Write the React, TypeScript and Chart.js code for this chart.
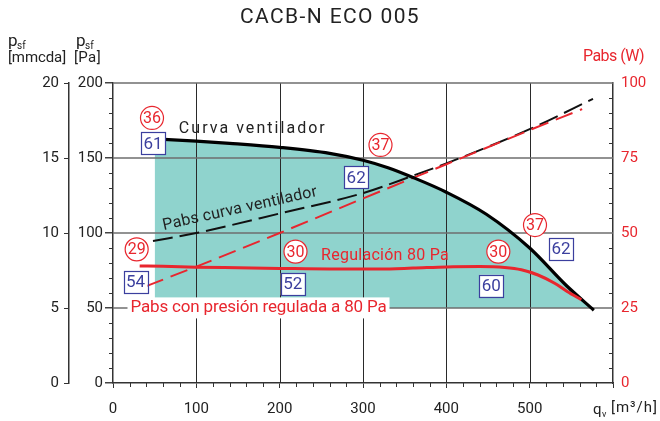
import React, { useEffect, useRef } from 'react';
import { Chart, registerables } from 'chart.js';
Chart.register(...registerables);

const FONT = 'Roboto, "DejaVu Sans", sans-serif';
const RED = '#e8262e';
const BLUE = '#3b3f9e';
const TEAL = '#8fd3cd';
const INK = '#222222';

const chartTitle = 'CACB-N ECO 005';

// Curva ventilador (Pa)
const fanFlow = [50, 100, 140, 200, 260, 300, 330, 360, 400, 448, 500, 544, 577];
const fanPressure = [162.8, 161.3, 159.8, 157.1, 153.1, 148.5, 143.5, 137, 127.2, 112.5, 90, 65, 48.5];

// Pabs curva ventilador (W)
const pabsFanFlow = [48, 100, 200, 300, 360, 400, 500, 576];
const pabsFanPower = [47.3, 50, 56.5, 63.3, 69.1, 73.2, 84.6, 94.7];

// Pabs con presión regulada a 80 Pa (W)
const pabsRegFlow = [40, 100, 200, 300, 400, 500, 563];
const pabsRegPower = [32.3, 38.8, 50, 61.5, 72.9, 84.3, 91.3];

// Regulación 80 Pa (Pa)
const regFlow = [32, 60, 100, 150, 200, 260, 320, 360, 400, 440, 470, 490, 510, 530, 545, 562];
const regPressure = [78, 77.8, 77.2, 76.8, 76.4, 76, 76, 76.6, 77.4, 77.6, 77, 75.5, 72, 66.5, 61, 55.5];

// Circled (red) annotations
const circleText = ['36', '37', '29', '30', '30', '37'];
const circleFlow = [46.8, 321, 28.4, 219, 462.4, 506.4];
const circlePa = [176.7, 158.7, 89.1, 87.6, 87.6, 105.3];

// Boxed (blue) annotations
const boxText = ['61', '62', '54', '52', '60', '62'];
const boxFlow = [48, 291.8, 27, 215.7, 454, 537.6];
const boxPa = [159.8, 137.1, 67.5, 65.9, 64.8, 89.5];

const xy = (xs: number[], ys: number[]) => xs.map((x, i) => ({ x, y: ys[i] }));

function fitText(ctx: CanvasRenderingContext2D, text: string, x: number, y: number, size: number, target: number, color: string, align: CanvasTextAlign = 'left') {
  ctx.font = `${size}px ${FONT}`;
  (ctx as any).letterSpacing = '0px';
  const w = ctx.measureText(text).width;
  const ls = target > 0 ? (target - w) / text.length : 0;
  (ctx as any).letterSpacing = `${ls}px`;
  ctx.fillStyle = color;
  ctx.textAlign = align;
  ctx.textBaseline = 'middle';
  ctx.fillText(text, x, y);
  (ctx as any).letterSpacing = '0px';
}

const decor = {
  id: 'decor',
  afterDatasetDraw(chart: any, args: any) {
    if (args.index !== 0) return;
    const { ctx, chartArea: { left, right, top, bottom }, scales } = chart;
    const sx = scales.x, sy = scales.y;
    ctx.save();
    ctx.lineWidth = 1;
    ctx.strokeStyle = '#2a2a2a';
    [100, 200, 300, 400, 500].forEach((v) => {
      const px = Math.round(sx.getPixelForValue(v)) + 0.5;
      ctx.beginPath(); ctx.moveTo(px, top); ctx.lineTo(px, bottom); ctx.stroke();
    });
    ctx.strokeStyle = '#6e6e6e';
    ctx.lineWidth = 1.5;
    [50, 100, 150, 200].forEach((v) => {
      const py = sy.getPixelForValue(v);
      ctx.beginPath(); ctx.moveTo(left, py); ctx.lineTo(right, py); ctx.stroke();
    });
    ctx.restore();
  },
  afterDraw(chart: any) {
    const { ctx, chartArea: { left, right, top, bottom }, scales } = chart;
    const sx = scales.x, sy = scales.y, sw = scales.yW;
    ctx.save();
    // minor ticks
    ctx.strokeStyle = '#333';
    ctx.lineWidth = 1;
    for (let v = 20; v < 600; v += 20) {
      if (v % 100 === 0) continue;
      const px = Math.round(sx.getPixelForValue(v)) + 0.5;
      ctx.beginPath(); ctx.moveTo(px, bottom); ctx.lineTo(px, bottom + 4); ctx.stroke();
    }
    for (let v = 10; v < 200; v += 10) {
      if (v % 50 === 0) continue;
      const py = Math.round(sy.getPixelForValue(v)) + 0.5;
      ctx.beginPath(); ctx.moveTo(left - 4, py); ctx.lineTo(left, py); ctx.stroke();
    }
    for (let v = 5; v < 100; v += 5) {
      if (v % 25 === 0) continue;
      const py = Math.round(sw.getPixelForValue(v)) + 0.5;
      ctx.beginPath(); ctx.moveTo(right - 4, py); ctx.lineTo(right, py); ctx.stroke();
    }

    // title
    fitText(ctx, chartTitle, 330, 18, 21, 180, INK, 'center');

    // axis titles
    ctx.textBaseline = 'alphabetic';
    ctx.textAlign = 'left';
    ctx.fillStyle = INK;
    ctx.font = `17px ${FONT}`;
    ctx.fillText('p', 8, 46);
    ctx.fillText('p', 76, 46);
    ctx.font = `10px ${FONT}`;
    ctx.fillText('sf', 17, 49);
    ctx.fillText('sf', 85, 49);
    fitText(ctx, '[mmcda]', 8, 58, 15, 58, INK);
    fitText(ctx, '[Pa]', 74, 58, 15, 27, INK);
    fitText(ctx, 'Pabs (W)', 583, 57, 16, 61, RED);
    ctx.textBaseline = 'alphabetic';
    ctx.fillStyle = INK;
    ctx.font = `15px ${FONT}`;
    ctx.fillText('q', 593, 414);
    ctx.font = `9px ${FONT}`;
    ctx.fillText('v', 602, 417);
    fitText(ctx, '[m³/h]', 611, 408, 15, 47, INK);

    const P = (fx: number, pa: number) => [sx.getPixelForValue(fx), sy.getPixelForValue(pa)];

    // labels
    let [tx, ty] = P(79, 169.3);
    fitText(ctx, 'Curva ventilador', tx, ty, 16, 148, INK);
    [tx, ty] = P(152.4, 116);
    ctx.save();
    ctx.translate(tx, ty);
    ctx.rotate(-12.5 * Math.PI / 180);
    fitText(ctx, 'Pabs curva ventilador', 0, 0, 16, 158, INK, 'center');
    ctx.restore();
    [tx, ty] = P(249.6, 84.7);
    fitText(ctx, 'Regulación 80 Pa', tx, ty, 16, 128, RED);
    [tx, ty] = P(21, 50.4);
    ctx.fillStyle = '#ffffff';
    ctx.fillRect(tx - 3, ty - 10, 262, 21);
    fitText(ctx, 'Pabs con presión regulada a 80 Pa', tx, ty, 17, 256, RED);

    // circles
    circleText.forEach((t, i) => {
      const [cx, cy] = P(circleFlow[i], circlePa[i]);
      ctx.beginPath();
      ctx.arc(cx, cy, 11.5, 0, Math.PI * 2);
      ctx.fillStyle = '#fff';
      ctx.fill();
      ctx.strokeStyle = RED;
      ctx.lineWidth = 1.2;
      ctx.stroke();
      ctx.font = `16px ${FONT}`;
      ctx.fillStyle = RED;
      ctx.textAlign = 'center';
      ctx.textBaseline = 'middle';
      ctx.fillText(t, cx, cy + 1);
    });
    // boxes
    boxText.forEach((t, i) => {
      const [cx, cy] = P(boxFlow[i], boxPa[i]);
      ctx.fillStyle = '#fff';
      ctx.fillRect(cx - 12, cy - 11, 24, 22);
      ctx.strokeStyle = BLUE;
      ctx.lineWidth = 1.2;
      ctx.strokeRect(Math.round(cx - 12) + 0.5, Math.round(cy - 11) + 0.5, 24, 22);
      ctx.font = `17px ${FONT}`;
      ctx.fillStyle = BLUE;
      ctx.textAlign = 'center';
      ctx.textBaseline = 'middle';
      ctx.fillText(t, cx, cy + 1);
    });
    ctx.restore();
  },
};

export default function App() {
  const ref = useRef<HTMLCanvasElement>(null);
  useEffect(() => {
    const tickFont = { family: FONT, size: 15 };
    const chart = new Chart(ref.current as HTMLCanvasElement, {
      type: 'line',
      data: {
        datasets: [
          {
            label: 'area',
            data: xy(fanFlow, fanPressure),
            yAxisID: 'y',
            borderWidth: 0,
            borderColor: 'rgba(0,0,0,0)',
            backgroundColor: TEAL,
            fill: { value: 50 },
            pointRadius: 0,
            cubicInterpolationMode: 'monotone',
            order: 10,
          },
          {
            label: 'Pabs curva ventilador',
            data: xy(pabsFanFlow, pabsFanPower),
            yAxisID: 'yW',
            borderColor: '#111',
            borderWidth: 2,
            borderDash: [20, 7],
            pointRadius: 0,
            fill: false,
            cubicInterpolationMode: 'monotone',
            order: 4,
          },
          {
            label: 'Pabs con presión regulada a 80 Pa',
            data: xy(pabsRegFlow, pabsRegPower),
            yAxisID: 'yW',
            borderColor: RED,
            borderWidth: 2,
            borderDash: [18, 8],
            pointRadius: 0,
            fill: false,
            cubicInterpolationMode: 'monotone',
            order: 3,
          },
          {
            label: 'Curva ventilador',
            data: xy(fanFlow, fanPressure),
            yAxisID: 'y',
            borderColor: '#000',
            borderWidth: 3.2,
            pointRadius: 0,
            fill: false,
            cubicInterpolationMode: 'monotone',
            order: 2,
          },
          {
            label: 'Regulación 80 Pa',
            data: xy(regFlow, regPressure),
            yAxisID: 'y',
            borderColor: RED,
            borderWidth: 3,
            pointRadius: 0,
            fill: false,
            cubicInterpolationMode: 'monotone',
            order: 1,
          },
        ],
      },
      options: {
        animation: false,
        responsive: false,
        devicePixelRatio: 1,
        layout: { padding: { top: 83, left: 0, right: 0, bottom: 0 } },
        plugins: { legend: { display: false }, tooltip: { enabled: false }, title: { display: false } },
        scales: {
          x: {
            type: 'linear',
            position: 'bottom',
            min: 0,
            max: 600,
            ticks: {
              stepSize: 100,
              autoSkip: false,
              maxRotation: 0,
              font: tickFont,
              color: INK,
              padding: 12,
              callback: (v: any) => (v === 600 ? '' : String(v)),
            },
            grid: { drawOnChartArea: false, color: '#333', tickLength: 5, lineWidth: 1 },
            border: { color: '#333', width: 1.5 },
            afterFit: (s: any) => { s.height = 38; },
          },
          y: {
            type: 'linear',
            position: 'left',
            weight: 0,
            min: 0,
            max: 200,
            ticks: { stepSize: 50, font: tickFont, color: INK, padding: 2 },
            grid: { drawOnChartArea: false, color: '#444', tickLength: 8, lineWidth: 1.5 },
            border: { color: '#333', width: 1.5 },
            afterFit: (s: any) => { s.width = 44; },
          },
          ymm: {
            type: 'linear',
            position: 'left',
            weight: 1,
            min: 0,
            max: 20,
            ticks: { stepSize: 5, font: tickFont, color: INK, padding: 5 },
            grid: { drawOnChartArea: false, color: '#333', tickLength: 5 },
            border: { color: '#333', width: 1.5 },
            afterFit: (s: any) => { s.width = 69; },
          },
          yW: {
            type: 'linear',
            position: 'right',
            min: 0,
            max: 100,
            ticks: { stepSize: 25, font: tickFont, color: RED, padding: 8 },
            grid: { drawOnChartArea: false, drawTicks: false },
            border: { color: '#333', width: 1.5 },
            afterFit: (s: any) => { s.width = 47; },
          },
        },
      },
      plugins: [decor],
    } as any);
    return () => chart.destroy();
  }, []);
  return (
    <div style={{ position: 'fixed', left: 0, top: 0, width: 660, height: 421, background: '#fff' }}>
      <canvas ref={ref} width={660} height={421} style={{ width: 660, height: 421, display: 'block' }} />
    </div>
  );
}
